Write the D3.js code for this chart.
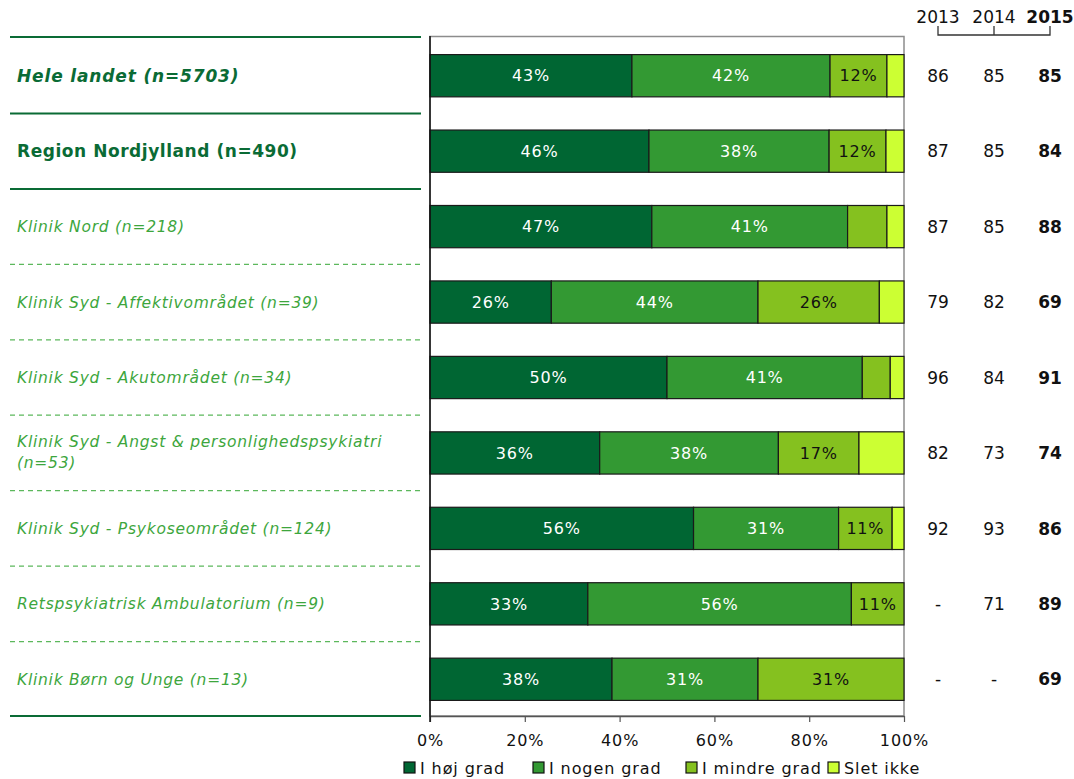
<!DOCTYPE html>
<html><head><meta charset="utf-8">
<script src="https://cdn.jsdelivr.net/npm/d3@7"></script>
<style>body{margin:0;background:#fff;} svg{display:block;font-family:Verdana,"DejaVu Sans",sans-serif;}</style>
</head><body>
<svg id="c" width="1074" height="779"></svg>
<script>
const categories = ["Hele landet (n=5703)","Region Nordjylland (n=490)","Klinik Nord (n=218)","Klinik Syd - Affektivområdet (n=39)","Klinik Syd - Akutområdet (n=34)","Klinik Syd - Angst & personlighedspsykiatri (n=53)","Klinik Syd - Psykoseområdet (n=124)","Retspsykiatrisk Ambulatorium (n=9)","Klinik Børn og Unge (n=13)"];
const seriesNames = ["I høj grad","I nogen grad","I mindre grad","Slet ikke"];
const hojGrad    = [42.6, 46.2, 46.8, 25.6, 50.0, 35.8, 55.6, 33.3, 38.4];
const nogenGrad  = [41.8, 38.0, 41.3, 43.6, 41.2, 37.7, 30.6, 55.6, 30.8];
const mindreGrad = [12.0, 12.0,  8.3, 25.6,  5.9, 17.0, 11.3, 11.1, 30.8];
const sletIkke   = [ 3.6,  3.8,  3.6,  5.2,  2.9,  9.5,  2.5,  0.0,  0.0];
const y2013 = ["86","87","87","79","96","82","92","-","-"];
const y2014 = ["85","85","85","82","84","73","93","71","-"];
const y2015 = ["85","84","88","69","91","74","86","89","69"];
const years = ["2013","2014","2015"];
const xTicks = [0,20,40,60,80,100];

const colors = ["#006633","#339933","#85c11f","#ccff33"];
const labelColors = ["#0a6b35","#0a6b35","#3da63d","#3da63d","#3da63d","#3da63d","#3da63d","#3da63d","#3da63d"];
const svg = d3.select("#c");
const L = 430, R = 904, T = 37, B = 716;
const x = d3.scaleLinear().domain([0,100]).range([L,R]);
const y = d3.scaleBand().domain(categories).range([T+1,B+1]).paddingInner(0.44).paddingOuter(0.22);

// frame
svg.append("rect").attr("x",L).attr("y",T-0.5).attr("width",R-L).attr("height",B-T+0.5)
  .attr("fill","none").attr("stroke","#8c8c8c").attr("stroke-width",1.5);

const series = [hojGrad,nogenGrad,mindreGrad,sletIkke];
categories.forEach((c,i)=>{
  let acc = 0;
  series.forEach((s,k)=>{
    const v = s[i];
    if (v>0){
      svg.append("rect").attr("x",x(acc)).attr("y",y(c)).attr("width",x(acc+v)-x(acc)).attr("height",y.bandwidth())
        .attr("fill",colors[k]).attr("stroke","#1a1a1a").attr("stroke-width",1.2);
      if (v>=10.5){
        svg.append("text").attr("x",(x(acc)+x(acc+v))/2).attr("y",y(c)+y.bandwidth()/2)
          .attr("dy","0.36em").attr("text-anchor","middle").attr("font-size",16).attr("letter-spacing","0.8px")
          .attr("fill", k<2?"#ffffff":"#111").text(Math.round(v)+"%");
      }
    }
    acc += v;
  });
});

// axes
const xAxis = d3.axisBottom(x).tickValues(xTicks).tickFormat(d=>d+"%").tickSize(6).tickSizeOuter(0);
const ga = svg.append("g").attr("transform",`translate(0,${B})`).call(xAxis);
ga.select(".domain").attr("stroke","#555").attr("stroke-width",1.5);
ga.selectAll(".tick line").attr("stroke","#555").attr("stroke-width",1.2);
ga.selectAll(".tick text").attr("font-size",16).attr("fill","#111").attr("dy","1.3em").attr("letter-spacing","0.9px").attr("font-family",'Verdana,"DejaVu Sans",sans-serif');
svg.append("line").attr("x1",L).attr("x2",L).attr("y1",T-1).attr("y2",B+6).attr("stroke","#111").attr("stroke-width",1.5);

// left labels and separators
const sepY = d3.range(categories.length+1).map(i=> i===0?T:(i===categories.length?B:(y(categories[i-1])+y.bandwidth()+y(categories[i]))/2));
sepY.forEach((yy,i)=>{
  const solid = i<=2 || i===categories.length;
  svg.append("line").attr("x1",10).attr("x2",421).attr("y1",yy).attr("y2",yy)
    .attr("stroke", solid?"#0a6b35":"#5cb85c").attr("stroke-width", solid?2:1.3)
    .attr("stroke-dasharray", solid?null:"5,4");
});
categories.forEach((c,i)=>{
  const t = svg.append("text").attr("x",17).attr("fill",labelColors[i])
    .attr("font-size", i<2?17:15.5).attr("font-weight", i<2?"bold":"normal")
    .attr("letter-spacing", i===0?"0.85px":(i===1?"0.55px":"0.75px"))
    .attr("font-style", i===1?"normal":"italic");
  const cy = y(c)+y.bandwidth()/2;
  if (i===5){
    t.attr("y",cy-11).attr("dy","0.35em");
    t.append("tspan").attr("x",17).text("Klinik Syd - Angst & personlighedspsykiatri");
    t.append("tspan").attr("x",17).attr("dy","1.3em").text("(n=53)");
  } else {
    t.attr("y",cy).attr("dy","0.36em").text(c);
  }
});

// year columns
const yearX = [938, 994, 1050];
const yearCols = [y2013,y2014,y2015];
years.forEach((yr,k)=>{
  svg.append("text").attr("x",yearX[k]).attr("y",17).attr("dy","0.36em").attr("text-anchor","middle")
    .attr("font-size",17).attr("font-weight",k===2?"bold":"normal").attr("fill","#111").text(yr);
});
svg.append("path").attr("d",`M${yearX[0]},26V35H${yearX[2]}V26M${yearX[1]},26V35`).attr("fill","none").attr("stroke","#333").attr("stroke-width",1.3);
categories.forEach((c,i)=>{
  yearCols.forEach((col,k)=>{
    svg.append("text").attr("x",yearX[k]).attr("y",y(c)+y.bandwidth()/2).attr("dy","0.36em").attr("text-anchor","middle")
      .attr("font-size",17).attr("font-weight",k===2?"bold":"normal").attr("fill","#111").text(col[i]);
  });
});

// legend
const legX = [404, 533, 686, 828];
seriesNames.forEach((n,k)=>{
  svg.append("rect").attr("x",legX[k]).attr("y",762).attr("width",11).attr("height",11)
    .attr("fill",colors[k]).attr("stroke","#111").attr("stroke-width",1.2);
  svg.append("text").attr("x",legX[k]+16).attr("y",768).attr("dy","0.36em").attr("font-size",16).attr("letter-spacing","0.9px").attr("fill","#111").text(n);
});
</script>
</body></html>
